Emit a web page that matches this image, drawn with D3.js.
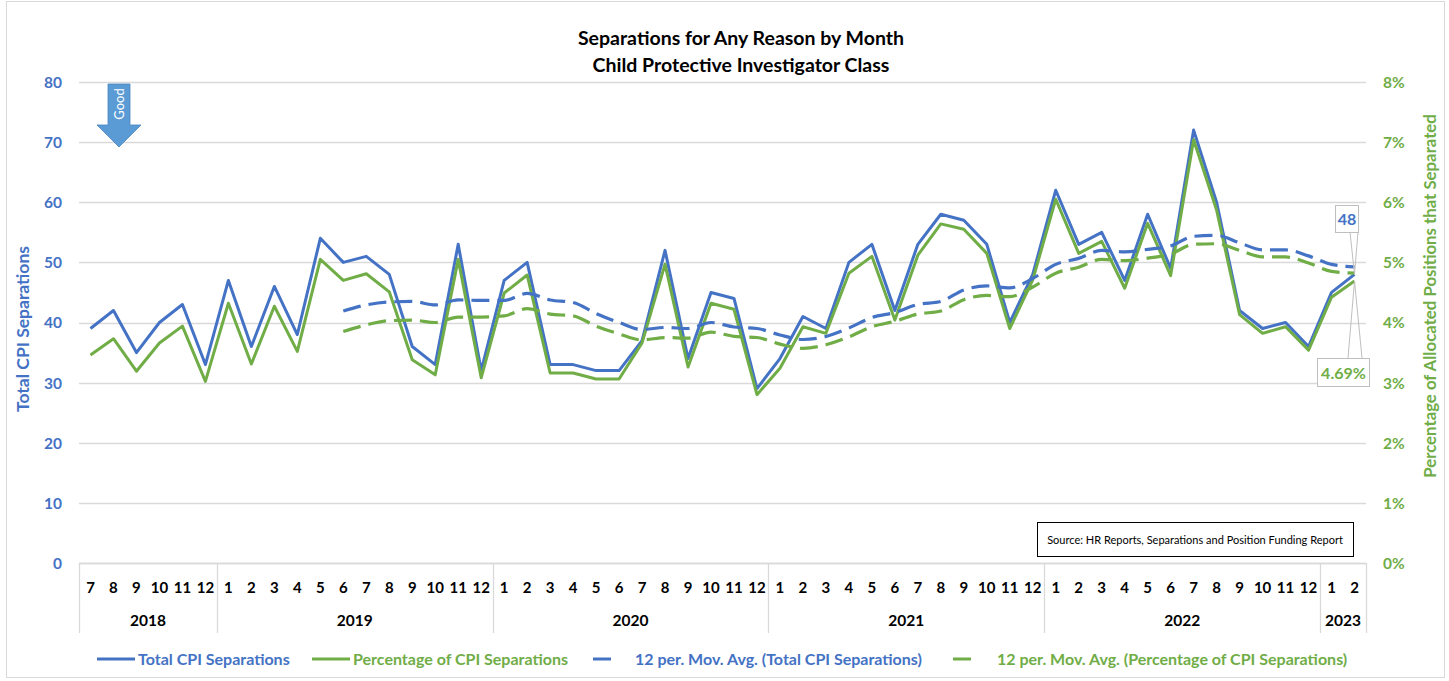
<!DOCTYPE html>
<html>
<head>
<meta charset="utf-8">
<script src="https://cdn.jsdelivr.net/npm/d3@7"></script>
<style>
  html, body { margin: 0; padding: 0; background: #fff; }
  svg { display: block; font-family: Lato, "Open Sans", sans-serif; }
</style>
</head>
<body>
<svg id="chart" width="1449" height="681"></svg>
<script>
// ---------- DATA ----------
const monthLabels = ["7","8","9","10","11","12",
  "1","2","3","4","5","6","7","8","9","10","11","12",
  "1","2","3","4","5","6","7","8","9","10","11","12",
  "1","2","3","4","5","6","7","8","9","10","11","12",
  "1","2","3","4","5","6","7","8","9","10","11","12",
  "1","2"];
const yearLabels = ["2018","2019","2020","2021","2022","2023"];
const yearCounts = [6, 12, 12, 12, 12, 2];

const totalSeparations = [39,42,35,40,43,33,
  47,36,46,38,54,50,51,48,36,33,53,32,
  47,50,33,33,32,32,37,52,34,45,44,29,
  34,41,39,50,53,42,53,58,57,53,40,48,
  62,53,55,47,58,49,72,60,42,39,40,36,
  45,48];

const pctSeparations = [3.46,3.73,3.19,3.66,3.94,3.02,
  4.32,3.31,4.27,3.52,5.05,4.70,4.81,4.51,3.38,3.13,5.05,3.08,
  4.49,4.79,3.16,3.16,3.06,3.06,3.66,4.97,3.26,4.32,4.22,2.80,
  3.24,3.93,3.82,4.82,5.10,4.04,5.12,5.64,5.55,5.15,3.90,4.71,
  6.05,5.15,5.35,4.57,5.65,4.78,7.04,5.87,4.13,3.82,3.93,3.54,
  4.42,4.69];

const movAvgTotal = [null,null,null,null,null,null,
  null,null,null,null,null,41.92,42.92,43.42,43.50,42.92,43.75,43.67,
  43.67,44.83,43.75,43.33,41.50,40.00,38.83,39.17,39.00,40.00,39.25,39.00,
  37.92,37.17,37.67,39.08,40.83,41.67,43.00,43.50,45.42,46.08,45.75,47.33,
  49.67,50.67,52.00,51.75,52.17,52.75,54.33,54.50,53.25,52.08,52.08,51.08,
  49.67,49.25];

const movAvgPct = [null,null,null,null,null,null,
  null,null,null,null,null,3.85,3.96,4.03,4.04,4.00,4.09,4.09,
  4.11,4.23,4.14,4.11,3.94,3.81,3.71,3.75,3.74,3.84,3.77,3.75,
  3.64,3.57,3.63,3.76,3.93,4.02,4.14,4.19,4.38,4.45,4.43,4.59,
  4.82,4.92,5.05,5.03,5.07,5.14,5.30,5.31,5.20,5.09,5.09,4.99,
  4.85,4.82];

const leftTicks = [0,10,20,30,40,50,60,70,80];
const rightTicks = [0,0.01,0.02,0.03,0.04,0.05,0.06,0.07,0.08];

const seriesNames = ["Total CPI Separations","Percentage of CPI Separations",
  "12 per. Mov. Avg. (Total CPI Separations)","12 per. Mov. Avg. (Percentage of CPI Separations)"];

// ---------- STYLE ----------
const BLUE = "#4472C4", GREEN = "#70AD47", GRID = "#d9d9d9", ARROW = "#5B9BD5";
const L = 79, R = 1366, T = 82, B = 563;

const svg = d3.select("#chart");

// outer frame
svg.append("rect").attr("x", 6.5).attr("y", 1.5).attr("width", 1438).attr("height", 676)
  .attr("fill", "#fff").attr("stroke", GRID).attr("stroke-width", 1);

const idx = d3.range(monthLabels.length);
const x = d3.scaleBand().domain(idx).range([L, R]).padding(0);
const cx = i => x(i) + x.bandwidth() / 2;
const yL = d3.scaleLinear().domain([0, 80]).range([B, T]);
const yR = d3.scaleLinear().domain([0, 0.08]).range([B, T]);

// gridlines
svg.append("g").selectAll("line").data(leftTicks).join("line")
  .attr("x1", L).attr("x2", R)
  .attr("y1", d => Math.round(yL(d)) + 0.5).attr("y2", d => Math.round(yL(d)) + 0.5)
  .attr("stroke", GRID).attr("stroke-width", 1.3);

// left axis
const gL = svg.append("g").attr("transform", `translate(${L - 17},0)`)
  .call(d3.axisLeft(yL).tickValues(leftTicks).tickSize(0).tickPadding(0));
gL.select(".domain").remove();
gL.selectAll("text").attr("fill", BLUE).attr("font-weight", "bold")
  .attr("font-size", 15.5).attr("font-family", "Lato, sans-serif").attr("dy", "0.35em");

// right axis
const gR = svg.append("g").attr("transform", `translate(${R + 17},0)`)
  .call(d3.axisRight(yR).tickValues(rightTicks).tickFormat(d3.format(".0%")).tickSize(0).tickPadding(0));
gR.select(".domain").remove();
gR.selectAll("text").attr("fill", GREEN).attr("font-weight", "bold")
  .attr("font-size", 15.5).attr("font-family", "Lato, sans-serif").attr("dy", "0.35em");

// axis titles
svg.append("text").attr("transform", `translate(29,329) rotate(-90)`)
  .attr("text-anchor", "middle").attr("fill", BLUE).attr("font-weight", "bold")
  .attr("font-size", 17.5).text("Total CPI Separations");
svg.append("text").attr("transform", `translate(1436,296) rotate(-90)`)
  .attr("text-anchor", "middle").attr("fill", GREEN).attr("font-weight", "bold")
  .attr("font-size", 16.8).text("Percentage of Allocated Positions that Separated");

// title
svg.append("text").attr("x", 741).attr("y", 45).attr("text-anchor", "middle")
  .attr("font-weight", "bold").attr("font-size", 19.5).attr("fill", "#000")
  .text("Separations for Any Reason by Month");
svg.append("text").attr("x", 741).attr("y", 72).attr("text-anchor", "middle")
  .attr("font-weight", "bold").attr("font-size", 19.5).attr("fill", "#000")
  .text("Child Protective Investigator Class");

// multi-level category axis
const axG = svg.append("g");
axG.append("line").attr("x1", L).attr("x2", R).attr("y1", B + 0.5).attr("y2", B + 0.5)
  .attr("stroke", GRID).attr("stroke-width", 1.3);
axG.selectAll("text.m").data(idx).join("text").attr("class", "m")
  .attr("x", i => cx(i)).attr("y", 593).attr("text-anchor", "middle")
  .attr("font-weight", "bold").attr("font-size", 15).attr("fill", "#000")
  .text(i => monthLabels[i]);
let start = 0;
const bounds = [0];
yearCounts.forEach((c, k) => {
  const x0 = x(start), x1 = start + c < idx.length ? x(start + c) : R;
  axG.append("text").attr("x", (x0 + x1) / 2).attr("y", 626).attr("text-anchor", "middle")
    .attr("font-weight", "bold").attr("font-size", 15.5).attr("fill", "#000").text(yearLabels[k]);
  start += c;
  bounds.push(start);
});
axG.selectAll("line.sep").data(bounds).join("line").attr("class", "sep")
  .attr("x1", b => Math.round(b < idx.length ? x(b) : R) + 0.5)
  .attr("x2", b => Math.round(b < idx.length ? x(b) : R) + 0.5)
  .attr("y1", B).attr("y2", 633).attr("stroke", GRID).attr("stroke-width", 1.3);

// lines
const lineL = d3.line().defined(d => d != null).x((d, i) => cx(i)).y(d => yL(d));
const lineR = d3.line().defined(d => d != null).x((d, i) => cx(i)).y(d => yR(d / 100));

svg.append("path").datum(totalSeparations).attr("d", lineL)
  .attr("fill", "none").attr("stroke", BLUE).attr("stroke-width", 3).attr("stroke-linejoin", "round");
svg.append("path").datum(pctSeparations).attr("d", lineR)
  .attr("fill", "none").attr("stroke", GREEN).attr("stroke-width", 3).attr("stroke-linejoin", "round");
svg.append("path").datum(movAvgTotal).attr("d", lineL.curve(d3.curveMonotoneX))
  .attr("fill", "none").attr("stroke", BLUE).attr("stroke-width", 3.2).attr("stroke-dasharray", "18,8");
svg.append("path").datum(movAvgPct).attr("d", lineR.curve(d3.curveMonotoneX))
  .attr("fill", "none").attr("stroke", GREEN).attr("stroke-width", 3.2).attr("stroke-dasharray", "18,8");

// "Good" arrow
const ag = svg.append("g");
ag.append("path").attr("d", "M108,84 L130,84 L130,125 L141,125 L119,147 L97,125 L108,125 Z")
  .attr("fill", ARROW).attr("stroke", "#4a86c0").attr("stroke-width", 0.8);
ag.append("text").attr("transform", "translate(119,104) rotate(-90)")
  .attr("text-anchor", "middle").attr("dy", "0.35em").attr("fill", "#fff")
  .attr("font-size", 13).text("Good");

// data callouts for last point
const last = idx.length - 1;
const pxB = cx(last), pyB = yL(totalSeparations[last]);
const pyG = yR(pctSeparations[last] / 100);
const cg = svg.append("g");
cg.append("path").attr("d", `M1350,232 L${pxB},${pyB} L1358,232`)
  .attr("fill", "none").attr("stroke", "#bfbfbf").attr("stroke-width", 1);
cg.append("rect").attr("x", 1335.5).attr("y", 205.5).attr("width", 23).attr("height", 27)
  .attr("fill", "#fff").attr("stroke", "#bfbfbf");
cg.append("text").attr("x", 1347).attr("y", 219).attr("dy", "0.35em").attr("text-anchor", "middle")
  .attr("fill", BLUE).attr("font-weight", "bold").attr("font-size", 16).text(totalSeparations[last]);
cg.append("path").attr("d", `M1348,358 L${pxB},${pyG} L1362,358`)
  .attr("fill", "none").attr("stroke", "#bfbfbf").attr("stroke-width", 1);
cg.append("rect").attr("x", 1317.5).attr("y", 358.5).attr("width", 52).attr("height", 28)
  .attr("fill", "#fff").attr("stroke", "#bfbfbf");
cg.append("text").attr("x", 1343.5).attr("y", 373).attr("dy", "0.35em").attr("text-anchor", "middle")
  .attr("fill", GREEN).attr("font-weight", "bold").attr("font-size", 16)
  .text(d3.format(".2f")(pctSeparations[last]) + "%");

// source box
svg.append("rect").attr("x", 1037.5).attr("y", 522.5).attr("width", 316).attr("height", 34)
  .attr("fill", "#fff").attr("stroke", "#000").attr("stroke-width", 1);
svg.append("text").attr("x", 1195).attr("y", 540).attr("dy", "0.35em").attr("text-anchor", "middle")
  .attr("font-size", 11).attr("fill", "#000").attr("font-family", "'Liberation Sans Narrow', Lato, sans-serif")
  .text("Source: HR Reports, Separations and Position Funding Report");

// legend
const legItems = [
  {name: seriesNames[0], color: BLUE, dash: null, x1: 97, x2: 135, tx: 138},
  {name: seriesNames[1], color: GREEN, dash: null, x1: 312, x2: 350, tx: 353},
  {name: seriesNames[2], color: BLUE, dash: "18,8", x1: 593, x2: 619, tx: 635},
  {name: seriesNames[3], color: GREEN, dash: "18,8", x1: 953, x2: 979, tx: 997}
];
const lg = svg.append("g");
legItems.forEach(it => {
  lg.append("line").attr("x1", it.x1).attr("x2", it.x2).attr("y1", 659).attr("y2", 659)
    .attr("stroke", it.color).attr("stroke-width", 3).attr("stroke-dasharray", it.dash);
  lg.append("text").attr("x", it.tx).attr("y", 659).attr("dy", "0.35em")
    .attr("fill", it.color).attr("font-weight", "bold").attr("font-size", 16).text(it.name);
});
</script>
</body>
</html>
